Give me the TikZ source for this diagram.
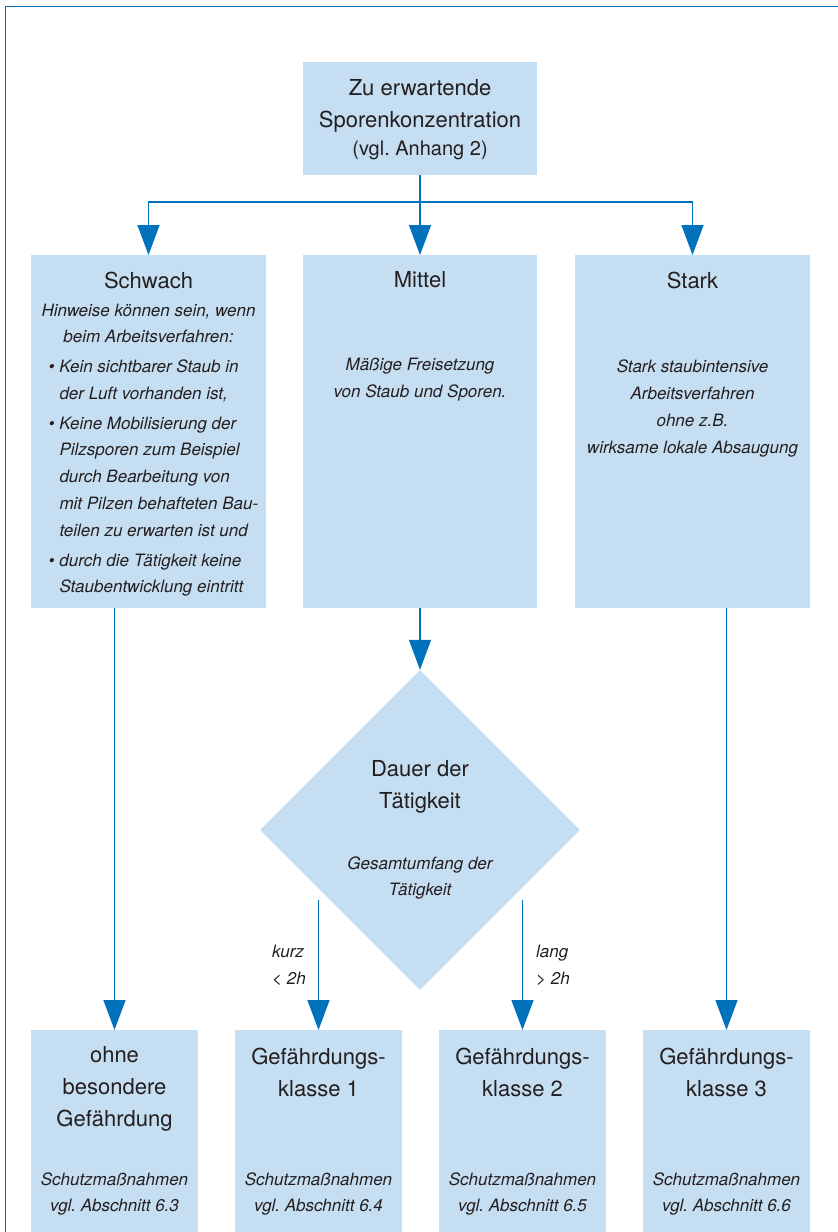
\documentclass[tikz,border=0pt]{standalone}
\usepackage{fontspec}
\setmainfont{TeX Gyre Heros}
\usetikzlibrary{arrows.meta,shapes.geometric}
\definecolor{boxfill}{HTML}{C6DEF1}
\definecolor{lineblue}{HTML}{0072BC}
\definecolor{txt}{HTML}{231F20}
\frenchspacing
\begin{document}
\begin{tikzpicture}[x=1pt,y=-1pt,
  box/.style={fill=boxfill,draw=none,inner sep=0pt,outer sep=0pt,anchor=north west},
  conn/.style={draw=lineblue,line width=1.4pt},
  arr/.style={conn,-{Triangle[width=22pt,length=30pt]}},
  big/.style={text=txt,font=\fontsize{22}{32}\selectfont,align=center,inner sep=0pt},
  small/.style={text=txt,font=\fontsize{17}{26.8}\selectfont\itshape,align=center,inner sep=0pt},
]
\useasboundingbox (0,0) rectangle (838,1232);
\draw[conn,line width=1.6pt] (5.5,1232) -- (5.5,6.5) -- (838,6.5);

% boxes
\node[box,minimum width=234pt,minimum height=113pt] (top) at (303,62) {};
\node[box,minimum width=235pt,minimum height=353pt] (schwach) at (31,255) {};
\node[box,minimum width=234pt,minimum height=353pt] (mittel) at (303,255) {};
\node[box,minimum width=235pt,minimum height=353pt] (stark) at (575,255) {};
\node[diamond,fill=boxfill,aspect=1,minimum width=320pt,minimum height=320pt,inner sep=0pt] (dauer) at (420,830) {};
\node[box,minimum width=167pt,minimum height=205pt] (ohne) at (31,1030) {};
\node[box,minimum width=167pt,minimum height=205pt] (g1) at (235,1030) {};
\node[box,minimum width=167pt,minimum height=205pt] (g2) at (439,1030) {};
\node[box,minimum width=167pt,minimum height=205pt] (g3) at (643,1030) {};

% connectors
\coordinate (split) at (420,202);
\draw[conn] (top.south) -- (split);
\draw[arr] (split) -| (schwach.north);
\draw[arr] (split) -- (mittel.north);
\draw[arr] (split) -| (stark.north);
\draw[arr] (mittel.south) -- (dauer.north);
\draw[arr] (schwach.south -| ohne.north) -- (ohne.north);
\draw[arr] (stark.south -| g3.north) -- (g3.north);
\path (g1.north) ++(0,-130) coordinate (k1);
\path (g2.north) ++(0,-130) coordinate (k2);
\draw[arr] (k1) -- (g1.north);
\draw[arr] (k2) -- (g2.north);

% texts
\node[big] (ttop) at (420,106) {Zu erwartende\\Sporenkonzentration};
\node[big,font=\fontsize{20}{24}\selectfont] (tanh) at (420,150) {(vgl. Anhang 2)};

\node[big] (tschwach) at (148.5,280) {Schwach};
\node[small] (thinw) at (148.5,323.5) {Hinweise können sein, wenn\\beim Arbeitsverfahren:};
\node[small,align=left,anchor=north west] (tlist) at (59.3,359.6) {%
\llap{\textbullet\hspace{5pt}}Kein sichtbarer Staub in\\der Luft vorhanden ist,\\[3pt]
\llap{\textbullet\hspace{5pt}}Keine Mobilisierung der\\Pilzsporen zum Beispiel\\durch Bearbeitung von\\mit Pilzen behafteten Bau-\\teilen zu erwarten ist und\\[3pt]
\llap{\textbullet\hspace{5pt}}durch die Tätigkeit keine\\Staubentwicklung eintritt};

\node[big] (tmittel) at (420,280) {Mittel};
\node[small] (tmit2) at (420,380) {Mäßige Freisetzung\\von Staub und Sporen.};

\node[big] (tstark) at (692.5,280) {Stark};
\node[small] (tst2) at (692.5,408.6) {Stark staubintensive\\Arbeitsverfahren\\ohne z.B.\\wirksame lokale Absaugung};

\node[big] (tdauer) at (420,787) {Dauer der\\Tätigkeit};
\node[small] (tges) at (420,878) {Gesamtumfang der\\Tätigkeit};

\node[small,align=left,anchor=west] (tkurz) at (272,965) {kurz\\< 2h};
\node[small,align=left,anchor=west] (tlang) at (536,965) {lang\\> 2h};

\node[big] (tohne) at (114.5,1089) {ohne\\besondere\\Gefährdung};
\node[big] (tg1) at (318.5,1072) {Gefährdungs-\\klasse 1};
\node[big] (tg2) at (522.5,1072) {Gefährdungs-\\klasse 2};
\node[big] (tg3) at (726.5,1072) {Gefährdungs-\\klasse 3};

\node[small] (sohne) at (114.5,1194) {Schutzmaßnahmen\\vgl. Abschnitt 6.3};
\node[small] (sg1) at (318.5,1194) {Schutzmaßnahmen\\vgl. Abschnitt 6.4};
\node[small] (sg2) at (522.5,1194) {Schutzmaßnahmen\\vgl. Abschnitt 6.5};
\node[small] (sg3) at (726.5,1194) {Schutzmaßnahmen\\vgl. Abschnitt 6.6};
\end{tikzpicture}
\end{document}
